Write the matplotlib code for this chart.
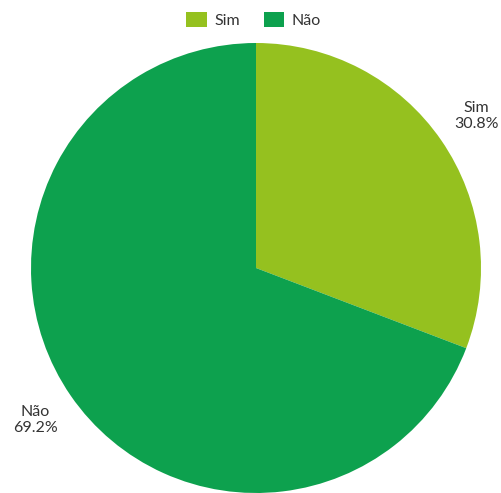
import matplotlib.pyplot as plt

labels = ["Sim", "Não"]
shares = [30.8, 69.2]
colors = ["#95c11f", "#0da14e"]

plt.rcParams["font.family"] = ["Lato", "DejaVu Sans"]

fig = plt.figure(figsize=(5.02, 4.93), dpi=100)
ax = fig.add_axes([0, 0, 1, 1])

wedges, texts = ax.pie(
    shares,
    colors=colors,
    labels=[f"{l}\n{v:.1f}%" for l, v in zip(labels, shares)],
    startangle=90,
    counterclock=False,
    radius=225,
    center=(256, 225),
    labeldistance=1.19,
    textprops=dict(fontsize=11.5, color="#333333", linespacing=1.25),
    frame=True,
)
for t in texts:
    t.set_ha("center")
    t.set_multialignment("center")

ax.set_xlim(0, 502)
ax.set_ylim(0, 493)
ax.set_aspect("equal")
ax.axis("off")

ax.legend(
    wedges,
    labels,
    loc="upper center",
    bbox_to_anchor=(0.505, 1.0),
    ncol=2,
    frameon=False,
    fontsize=11.5,
    handlelength=1.3,
    handleheight=1.1,
    handletextpad=0.45,
    columnspacing=1.5,
    borderaxespad=0.35,
    labelcolor="#333333",
)

fig.savefig("out.png", dpi=100)
